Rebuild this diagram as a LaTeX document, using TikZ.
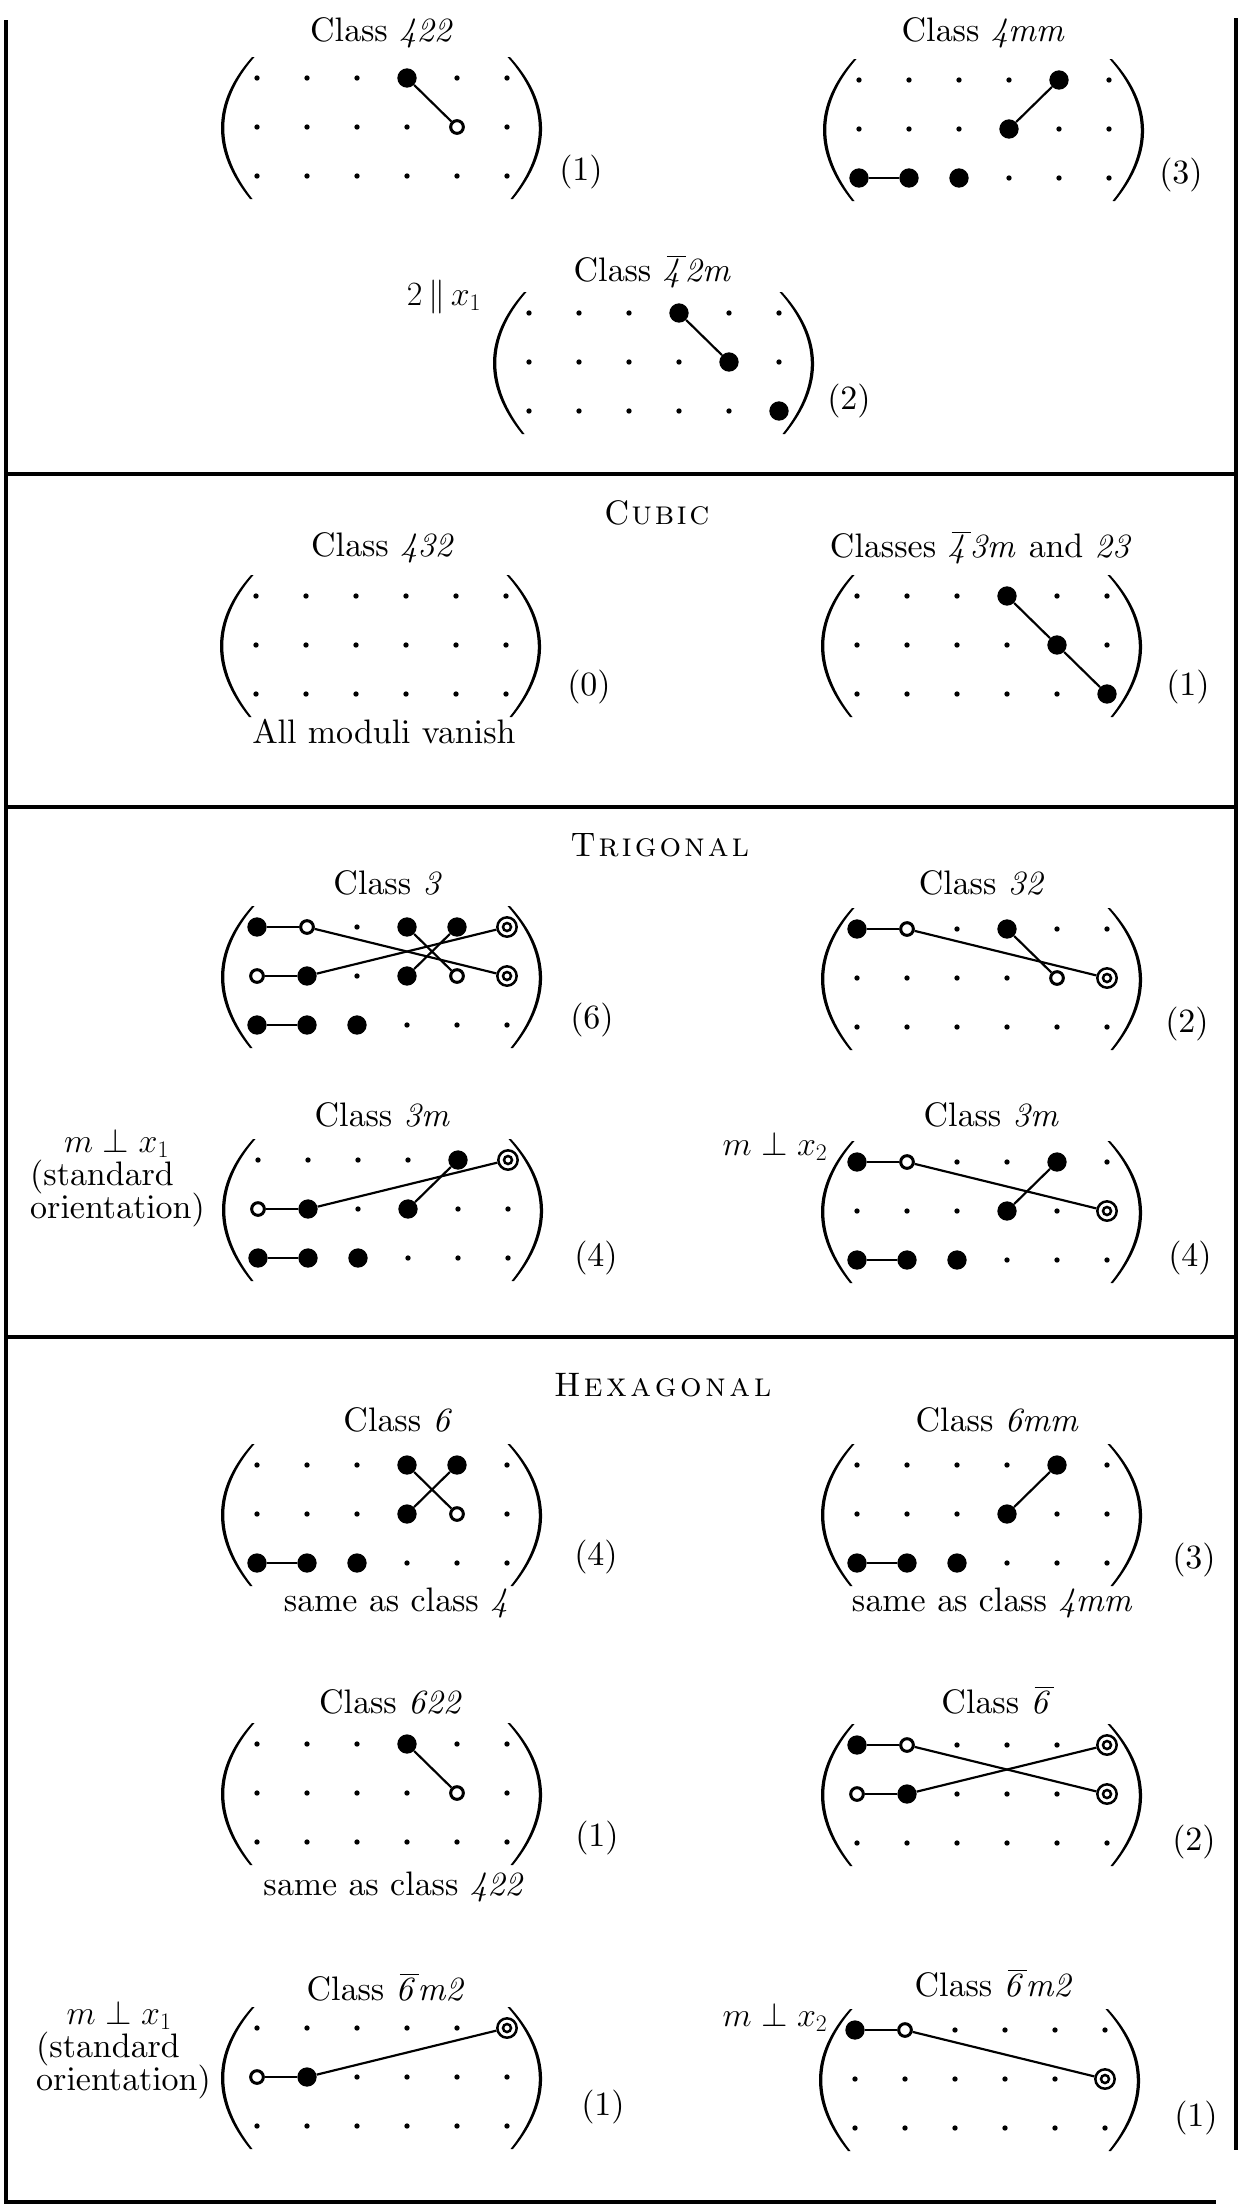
\RequirePackage{fix-cm}
\documentclass[tikz,border=0pt]{standalone}
\usepackage[OT1]{fontenc}
\DeclareFontFamily{OT1}{cmrx}{\hyphenchar\font=-1}
\DeclareFontShape{OT1}{cmrx}{m}{n}{<-> cmr10}{}
\DeclareFontShape{OT1}{cmrx}{m}{it}{<-> cmti10}{}
\DeclareFontShape{OT1}{cmrx}{m}{sc}{<-> cmcsc10}{}
\renewcommand\rmdefault{cmrx}
\renewcommand\familydefault{\rmdefault}
\tikzset{
  sdot/.style={circle,fill=black,inner sep=0pt,minimum size=0.16cm},
  fdot/.style={circle,fill=black,inner sep=0pt,minimum size=0.58cm},
  odot/.style={circle,draw=black,fill=white,line width=0.09cm,inner sep=0pt,minimum size=0.38cm},
  ddot/.style={circle,draw=black,fill=white,line width=0.075cm,inner sep=0pt,minimum size=0.58cm,
     path picture={\draw[line width=0.075cm] (path picture bounding box.center) circle (0.12cm);}},
  conn/.style={line width=0.065cm},
  lbl/.style={inner sep=0pt,font=\fontencoding{OT1}\fontfamily{cmrx}\fontsize{29}{34}\selectfont},
  side/.style={inner sep=0pt,align=left,anchor=west},
  frameline/.style={line width=0.1cm},
}
\newsavebox\obarbox
\newcommand\obar[1]{\sbox\obarbox{\textit{#1}}%
  \rlap{\kern3.5pt\raisebox{\dimexpr\ht\obarbox+2.5pt\relax}{\rule{\dimexpr\wd\obarbox-2.5pt\relax}{1.1pt}}}%
  \usebox\obarbox}
\newcommand\mgrid[3]{%
 \begin{scope}[shift={(#2,#3)}]
  \foreach \ii in {1,2,3}{\foreach \jj in {1,...,6}{%
    \node[sdot] (#1-\ii-\jj) at ({(\jj-1)*50},{(\ii-1)*49}) {};}}
  \fill (-5,-21) .. controls (-45.7,25) and (-46.3,72.3) .. (-7,121) -- (-4.5,121)
        .. controls (-42.7,72.3) and (-42.2,25) .. (-2.5,-21) -- cycle;
  \fill (253,-21) .. controls (294.7,25) and (295.7,72.3) .. (256,121) -- (253.5,121)
        .. controls (292.2,72.3) and (291.2,25) .. (250.5,-21) -- cycle;
 \end{scope}}
\begin{document}
\begin{tikzpicture}[x=0.03cm,y=-0.03cm]
\useasboundingbox (0,0) rectangle (1248,2211);
\fill[white] (0,0) rectangle (1248,2211);
% frame
\draw[frameline] (6,20) -- (6,2202) -- (1216,2202);
\draw[frameline] (1236,18) -- (1236,2150);
\draw[frameline] (6,474) -- (1236,474);
\draw[frameline] (6,807) -- (1236,807);
\draw[frameline] (6,1337) -- (1236,1337);

% ---------- Section 1 ----------
\node[lbl] (t422) at (383,33) {Class \textit{422}};
\mgrid{a}{257}{78}
\node[fdot] (a14) at (a-1-4) {};
\node[odot] (a25) at (a-2-5) {};
\draw[conn] (a14) -- (a25);
\node[lbl] (n422) at (581,172) {(1)};

\node[lbl] (t4mm) at (984,33) {Class \textit{4mm}};
\mgrid{b}{859}{80}
\node[fdot] (b15) at (b-1-5) {};
\node[fdot] (b24) at (b-2-4) {};
\node[fdot] (b31) at (b-3-1) {};
\node[fdot] (b32) at (b-3-2) {};
\node[fdot] (b33) at (b-3-3) {};
\draw[conn] (b24) -- (b15);
\draw[conn] (b31) -- (b32);
\node[lbl] (n4mm) at (1181,175) {(3)};

\node[lbl] (t42m) at (653,272) {Class \obar{4}\textit{2m}};
\node[lbl] (s42m) at (444,297) {$2\,\|\,x_1$};
\mgrid{c}{529}{313}
\node[fdot] (c14) at (c-1-4) {};
\node[fdot] (c25) at (c-2-5) {};
\node[fdot] (c36) at (c-3-6) {};
\draw[conn] (c14) -- (c25);
\node[lbl] (n42m) at (849,401) {(2)};

% ---------- Cubic ----------
\node[lbl] (cubic) at (657,513) {C\kern2pt\textsc{u\kern2pt b\kern2pt i\kern2pt c}};
\node[lbl] (t432) at (384,548) {Class \textit{432}};
\mgrid{d}{256}{596}
\node[lbl] (n432) at (589,687) {(0)};
\node[lbl] (v432) at (384,732) {All moduli vanish};

\node[lbl] (t43m) at (982,548) {Classes \obar{4}\textit{3m} and \textit{23}};
\mgrid{e}{857}{596}
\node[fdot] (e14) at (e-1-4) {};
\node[fdot] (e25) at (e-2-5) {};
\node[fdot] (e36) at (e-3-6) {};
\draw[conn] (e14) -- (e25);
\draw[conn] (e25) -- (e36);
\node[lbl] (n43m) at (1188,687) {(1)};

% ---------- Trigonal ----------
\node[lbl] (trig) at (660,845) {T\kern2.5pt\textsc{r\kern2.5pt i\kern2.5pt g\kern2.5pt o\kern2.5pt n\kern2.5pt a\kern2.5pt l}};
\node[lbl] (t3) at (389,883) {Class \textit{3}};
\mgrid{f}{257}{927}
\node[fdot] (f11) at (f-1-1) {};
\node[odot] (f12) at (f-1-2) {};
\node[fdot] (f14) at (f-1-4) {};
\node[fdot] (f15) at (f-1-5) {};
\node[ddot] (f16) at (f-1-6) {};
\node[odot] (f21) at (f-2-1) {};
\node[fdot] (f22) at (f-2-2) {};
\node[fdot] (f24) at (f-2-4) {};
\node[odot] (f25) at (f-2-5) {};
\node[ddot] (f26) at (f-2-6) {};
\node[fdot] (f31) at (f-3-1) {};
\node[fdot] (f32) at (f-3-2) {};
\node[fdot] (f33) at (f-3-3) {};
\draw[conn] (f11) -- (f12);
\draw[conn] (f12) -- (f26);
\draw[conn] (f21) -- (f22);
\draw[conn] (f22) -- (f16);
\draw[conn] (f14) -- (f25);
\draw[conn] (f15) -- (f24);
\draw[conn] (f31) -- (f32);
\node[lbl] (n3) at (592,1020) {(6)};

\node[lbl] (t32) at (983,883) {Class \textit{32}};
\mgrid{g}{857}{929}
\node[fdot] (g11) at (g-1-1) {};
\node[odot] (g12) at (g-1-2) {};
\node[fdot] (g14) at (g-1-4) {};
\node[odot] (g25) at (g-2-5) {};
\node[ddot] (g26) at (g-2-6) {};
\draw[conn] (g11) -- (g12);
\draw[conn] (g12) -- (g26);
\draw[conn] (g14) -- (g25);
\node[lbl] (n32) at (1187,1024) {(2)};

\node[lbl] (t3mL) at (383,1115) {Class \textit{3m}};
\node[lbl,side,font={\fontencoding{OT1}\fontfamily{cmrx}\fontsize{29}{28.5}\selectfont\lineskiplimit=-30pt}] (o3mL) at (30,1178)
  {\hspace*{29pt}$m\perp x_1$\\(standard\\orientation)};
\mgrid{h}{258}{1160}
\node[fdot] (h15) at (h-1-5) {};
\node[ddot] (h16) at (h-1-6) {};
\node[odot] (h21) at (h-2-1) {};
\node[fdot] (h22) at (h-2-2) {};
\node[fdot] (h24) at (h-2-4) {};
\node[fdot] (h31) at (h-3-1) {};
\node[fdot] (h32) at (h-3-2) {};
\node[fdot] (h33) at (h-3-3) {};
\draw[conn] (h21) -- (h22);
\draw[conn] (h22) -- (h16);
\draw[conn] (h24) -- (h15);
\draw[conn] (h31) -- (h32);
\node[lbl] (n3mL) at (596,1258) {(4)};

\node[lbl] (t3mR) at (992,1115) {Class \textit{3m}};
\node[lbl] (p3mR) at (775,1146) {$m\perp x_2$};
\mgrid{i}{857}{1162}
\node[fdot] (i11) at (i-1-1) {};
\node[odot] (i12) at (i-1-2) {};
\node[fdot] (i15) at (i-1-5) {};
\node[fdot] (i24) at (i-2-4) {};
\node[ddot] (i26) at (i-2-6) {};
\node[fdot] (i31) at (i-3-1) {};
\node[fdot] (i32) at (i-3-2) {};
\node[fdot] (i33) at (i-3-3) {};
\draw[conn] (i11) -- (i12);
\draw[conn] (i12) -- (i26);
\draw[conn] (i24) -- (i15);
\draw[conn] (i31) -- (i32);
\node[lbl] (n3mR) at (1190,1258) {(4)};

% ---------- Hexagonal ----------
\node[lbl] (hexa) at (663,1385) {H\kern3pt\textsc{e\kern3pt x\kern3pt a\kern3pt g\kern3pt o\kern3pt n\kern3pt a\kern3pt l}};
\node[lbl] (t6) at (399,1420) {Class \textit{6}};
\mgrid{j}{257}{1465}
\node[fdot] (j14) at (j-1-4) {};
\node[fdot] (j15) at (j-1-5) {};
\node[fdot] (j24) at (j-2-4) {};
\node[odot] (j25) at (j-2-5) {};
\node[fdot] (j31) at (j-3-1) {};
\node[fdot] (j32) at (j-3-2) {};
\node[fdot] (j33) at (j-3-3) {};
\draw[conn] (j14) -- (j25);
\draw[conn] (j15) -- (j24);
\draw[conn] (j31) -- (j32);
\node[lbl] (n6) at (596,1557) {(4)};
\node[lbl] (s6) at (398,1603) {same as class \textit{4}};

\node[lbl] (t6mm) at (998,1420) {Class \textit{6mm}};
\mgrid{k}{857}{1465}
\node[fdot] (k15) at (k-1-5) {};
\node[fdot] (k24) at (k-2-4) {};
\node[fdot] (k31) at (k-3-1) {};
\node[fdot] (k32) at (k-3-2) {};
\node[fdot] (k33) at (k-3-3) {};
\draw[conn] (k24) -- (k15);
\draw[conn] (k31) -- (k32);
\node[lbl] (n6mm) at (1194,1560) {(3)};
\node[lbl] (s6mm) at (993,1603) {same as class \textit{4mm}};

\node[lbl] (t622) at (392,1702) {Class \textit{622}};
\mgrid{l}{257}{1744}
\node[fdot] (l14) at (l-1-4) {};
\node[odot] (l25) at (l-2-5) {};
\draw[conn] (l14) -- (l25);
\node[lbl] (n622) at (597,1838) {(1)};
\node[lbl] (s622) at (395,1887) {same as class \textit{422}};

\node[lbl] (t6b) at (997,1700) {Class \obar{6}};
\mgrid{m}{857}{1745}
\node[fdot] (m11) at (m-1-1) {};
\node[odot] (m12) at (m-1-2) {};
\node[ddot] (m16) at (m-1-6) {};
\node[odot] (m21) at (m-2-1) {};
\node[fdot] (m22) at (m-2-2) {};
\node[ddot] (m26) at (m-2-6) {};
\draw[conn] (m11) -- (m12);
\draw[conn] (m12) -- (m26);
\draw[conn] (m21) -- (m22);
\draw[conn] (m22) -- (m16);
\node[lbl] (n6b) at (1194,1842) {(2)};

\node[lbl] (t6m2L) at (387,1987) {Class \obar{6}\textit{m2}};
\node[lbl,side,font={\fontencoding{OT1}\fontfamily{cmrx}\fontsize{29}{28}\selectfont\lineskiplimit=-30pt}] (o6m2L) at (36,2050)
  {\hspace*{26pt}$m\perp x_1$\\(standard\\orientation)};
\mgrid{n}{257}{2028}
\node[ddot] (n16) at (n-1-6) {};
\node[odot] (n21) at (n-2-1) {};
\node[fdot] (n22) at (n-2-2) {};
\draw[conn] (n21) -- (n22);
\draw[conn] (n22) -- (n16);
\node[lbl] (n6m2L) at (603,2107) {(1)};

\node[lbl] (t6m2R) at (995,1983) {Class \obar{6}\textit{m2}};
\node[lbl] (p6m2R) at (775,2017) {$m\perp x_2$};
\mgrid{o}{855}{2030}
\node[fdot] (o11) at (o-1-1) {};
\node[odot] (o12) at (o-1-2) {};
\node[ddot] (o26) at (o-2-6) {};
\draw[conn] (o11) -- (o12);
\draw[conn] (o12) -- (o26);
\node[lbl] (n6m2R) at (1196,2118) {(1)};
\end{tikzpicture}
\end{document}
